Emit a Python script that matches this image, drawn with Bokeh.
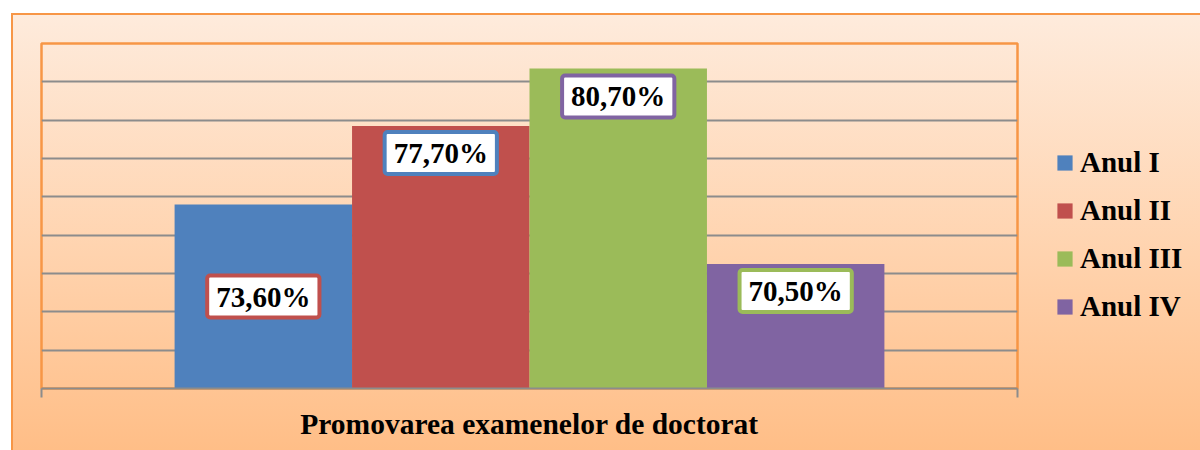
from bokeh.plotting import figure
from bokeh.models import Range1d, FixedTicker, SingleIntervalTicker, Label, Legend, LegendItem, ColumnDataSource
from bokeh.embed import file_html
from bokeh.resources import INLINE

# ---- data ----
series = ["Anul I", "Anul II", "Anul III", "Anul IV"]
values = [73.6, 77.7, 80.7, 70.5]
category_label = "Promovarea examenelor de doctorat"
y_min, y_max, y_step = 64, 82, 2

# ---- style ----
colors = ["#4F81BD", "#C0504D", "#9BBB59", "#8064A2"]
label_border = ["#C0504D", "#4F81BD", "#8064A2", "#9BBB59"]
label_drop_px = [92, 27, 28, 27]   # label centre below bar top (pixels)
gap_width = 1.5                     # Excel gap width 150 %
FONT = "Liberation Serif"
ORANGE = "#F79646"
GRID = "#8C8C8C"

n = len(series)
x_end = n + gap_width
centers = [gap_width / 2 + i + 0.5 for i in range(n)]

p = figure(
    frame_width=976, frame_height=345,
    x_range=Range1d(0, x_end), y_range=Range1d(y_min, y_max),
    output_backend="svg", toolbar_location=None,
    min_border_left=28, min_border_right=175, min_border_top=28, min_border_bottom=62,
    styles={
        "margin-left": "11px", "margin-top": "13px",
        "border-left": f"2px solid {ORANGE}", "border-top": f"2px solid {ORANGE}",
        "background": "linear-gradient(180deg, #FEEBDC 0%, #FFD3AE 55%, #FFBE87 100%)",
    },
)
p.background_fill_alpha = 0
p.border_fill_alpha = 0
p.outline_line_color = ORANGE
p.outline_line_width = 2.5

# grid
p.xgrid.visible = False
p.ygrid.ticker = SingleIntervalTicker(interval=y_step)
p.ygrid.grid_line_color = GRID
p.ygrid.grid_line_width = 2
p.yaxis.visible = False

# x axis (category label as title below)
ax = p.xaxis[0]
ax.ticker = FixedTicker(ticks=[0, x_end])
ax.major_label_overrides = {0: "", x_end: ""}
ax.major_label_standoff = 0
ax.minor_tick_line_color = None
ax.major_tick_in = 0
ax.major_tick_out = 9
ax.major_tick_line_color = GRID
ax.major_tick_line_width = 2
ax.axis_line_color = GRID
ax.axis_line_width = 2
ax.axis_label = category_label
ax.axis_label_text_font = FONT
ax.axis_label_text_font_style = "bold"
ax.axis_label_text_font_size = "29.5px"
ax.axis_label_text_color = "black"
ax.axis_label_standoff = 10

# bars
items = []
for i in range(n):
    src = ColumnDataSource(dict(x=[centers[i]], top=[values[i]]))
    r = p.vbar(x="x", top="top", bottom=y_min, width=1.0, source=src,
               fill_color=colors[i], line_color=None)
    items.append(LegendItem(label=series[i], renderers=[r]))

# data labels
for i in range(n):
    txt = f"{values[i]:.2f}".replace(".", ",") + "%"
    lab = Label(x=centers[i], y=values[i], y_offset=-label_drop_px[i], text=txt,
                text_align="center", text_baseline="middle",
                text_font=FONT, text_font_style="bold", text_font_size="29px",
                text_color="black",
                background_fill_color="white",
                border_line_color=label_border[i], border_line_width=4,
                padding=dict(left=9, right=9, top=5, bottom=5), border_radius=3)
    p.add_layout(lab)

legend = Legend(items=items, location=(38, 65), orientation="vertical",
                glyph_width=19, glyph_height=19, label_height=33, spacing=15,
                label_standoff=6, padding=0, margin=0,
                label_text_font=FONT, label_text_font_style="bold",
                label_text_font_size="29px", label_text_color="black",
                border_line_alpha=0, background_fill_alpha=0)
p.add_layout(legend, "right")

open("out.html", "w").write(file_html(p, INLINE))
